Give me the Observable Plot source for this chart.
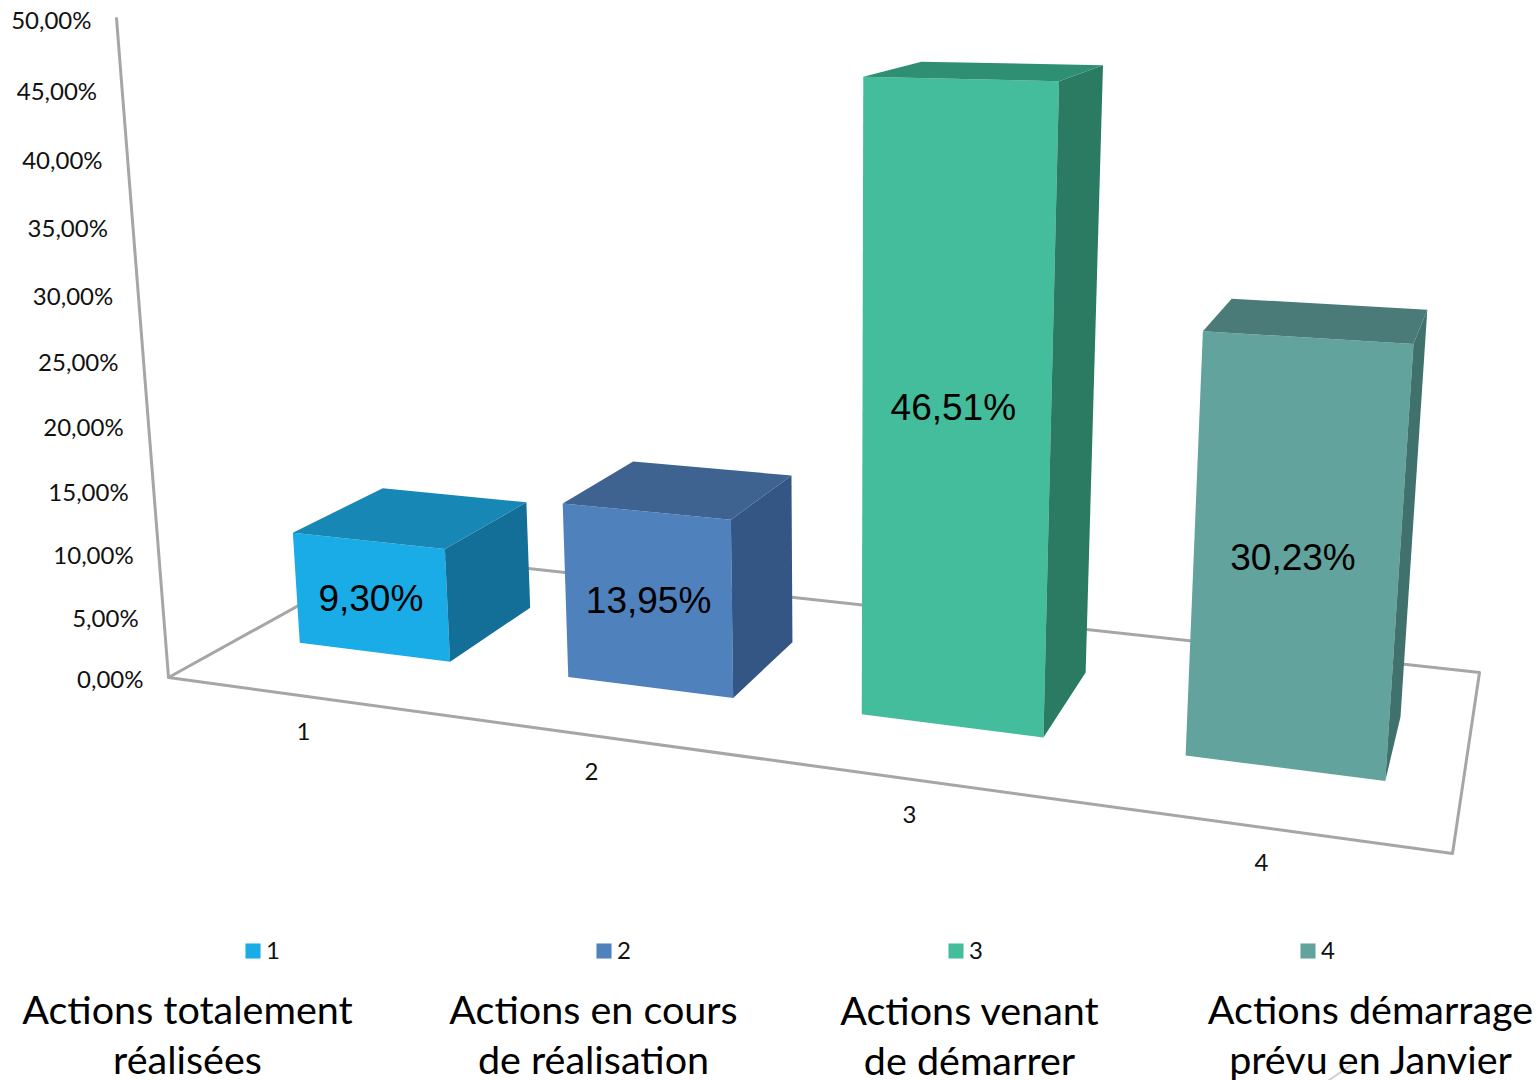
<!DOCTYPE html>
<html><head><meta charset="utf-8">
<script src="https://cdn.jsdelivr.net/npm/d3@7"></script>
<script src="https://cdn.jsdelivr.net/npm/@observablehq/plot@0.6"></script>
<style>html,body{margin:0;background:#fff}svg{display:block}</style></head>
<body><div id="chart"></div>
<script>
const categories=["1","2","3","4"];
const values=[9.30,13.95,46.51,30.23];
const valueLabels=["9,30%","13,95%","46,51%","30,23%"];
const axisTicks=[0,5,10,15,20,25,30,35,40,45,50];
const axisLabels=["0,00%","5,00%","10,00%","15,00%","20,00%","25,00%","30,00%","35,00%","40,00%","45,00%","50,00%"];
const frontColors=["#1AACE6","#4F81BD","#43BD9B","#62A39D"];
const topColors=["#1787B5","#3E6391","#2F8F73","#4B7B78"];
const sideColors=["#136F97","#345684","#2B7A62","#40716D"];
const captions=[["Actions totalement","réalisées"],["Actions en cours","de réalisation"],["Actions venant","de démarrer"],["Actions démarrage","prévu en Janvier"]];

// camera: floor plane homography plus vertical vanishing point
function sq2q(q){const [[x0,y0],[x1,y1],[x2,y2],[x3,y3]]=q;
 const dx1=x1-x2,dx2=x3-x2,dx3=x0-x1+x2-x3,dy1=y1-y2,dy2=y3-y2,dy3=y0-y1+y2-y3;
 const den=dx1*dy2-dx2*dy1,g=(dx3*dy2-dx2*dy3)/den,h=(dx1*dy3-dx3*dy1)/den;
 return [[x1-x0+g*x1,x3-x0+h*x3,x0],[y1-y0+g*y1,y3-y0+h*y3,y0],[g,h,1]];}
const H=sq2q([[168,677],[1452,853],[1479,672],[392,553]]);
const vp=[841,9210];
const s=-(677-18)/(vp[1]-18);
function project(X,Y,Z){const u=X/4,v=Y;
 const a=H[0][0]*u+H[0][1]*v+H[0][2]+s*Z*vp[0];
 const b=H[1][0]*u+H[1][1]*v+H[1][2]+s*Z*vp[1];
 const w=H[2][0]*u+H[2][1]*v+H[2][2]+s*Z;
 return [a/w,b/w];}

const barStart=[0.221,0.229,0.229,0.226], barEnd=[0.797,0.803,0.801,0.792];
const d0=0.301, d1=[0.712,0.685,0.710,0.665], heightScale=0.993;
const catX=[0.676,1.633,2.586,3.537], catDepth=[-0.186,-0.179,-0.168,-0.158];
const labelDx=[0,1,-2,-2], labelDy=[3,2,-4,1];
const faces=[];
values.forEach((val,i)=>{const x0=i+barStart[i],x1=i+barEnd[i],z=val/50*heightScale;
 const poly=(name,color,pts)=>pts.forEach(p=>{const [x,y]=project(...p);faces.push({x,y,key:i+name,color});});
 poly("f",frontColors[i],[[x0,d0,0],[x1,d0,0],[x1,d0,z],[x0,d0,z]]);
 poly("s",sideColors[i],[[x1,d0,0],[x1,d1[i],0],[x1,d1[i],z],[x1,d0,z]]);
 poly("t",topColors[i],[[x0,d0,z],[x1,d0,z],[x1,d1[i],z],[x0,d1[i],z]]);
});
const edge=[[0,0,1],[0,0,0],[4,0,0],[4,1,0],[0,1,0],[0,0,0]].map(p=>{const [x,y]=project(...p);return {x,y}});
const tickData=axisTicks.map((t,i)=>{const [x,y]=project(0,0,t/50);return {x:x-25,y:y+3,label:axisLabels[i]}});
const catData=categories.map((c,i)=>{const [x,y]=project(catX[i],catDepth[i],0);return {x,y,label:c}});
const valData=values.map((v,i)=>{const [x,y]=project(i+(barStart[i]+barEnd[i])/2,d0,v/100);return {x:x+labelDx[i],y:y+labelDy[i],label:valueLabels[i]}});
const legendX=[252.5,603.5,955.5,1307.5];
const legendData=categories.map((c,i)=>({x:legendX[i],y:950.5,c:frontColors[i],label:c}));
const capX=[187,593,969,1370];
const capY=[[1011,1061],[1011,1061],[1012,1062],[1011,1061]];
const capData=captions.flatMap((l,i)=>l.map((t,j)=>({x:capX[i],y:capY[i][j],label:t})));
const stray=[{x:1328,y:1080},{x:1350,y:1065}];

document.getElementById("chart").append(Plot.plot({
 width:1539,height:1080,margin:0,
 x:{domain:[0,1539],range:[0,1539],axis:null},
 y:{domain:[0,1080],range:[0,1080],axis:null},
 color:{type:"identity"},
 marks:[
  Plot.line(edge,{x:"x",y:"y",stroke:"#a6a6a6",strokeWidth:3}),
  Plot.line(stray,{x:"x",y:"y",stroke:"#cfcfcf",strokeWidth:2}),
  Plot.line(faces,{x:"x",y:"y",z:"key",fill:"color",stroke:"none"}),
  Plot.text(tickData,{x:"x",y:"y",text:"label",textAnchor:"end",fontSize:24,fontFamily:"Lato",fill:"#111"}),
  Plot.text(catData,{x:"x",y:"y",text:"label",fontSize:24,fontFamily:"Lato",fill:"#111"}),
  Plot.text(valData,{x:"x",y:"y",text:"label",fontSize:37,fontFamily:"Liberation Sans",fill:"#000"}),
  Plot.dot(legendData,{x:"x",y:"y",fill:"c",r:8.5,symbol:"square"}),
  Plot.text(legendData,{x:d=>d.x+20,y:"y",text:"label",fontSize:24,fontFamily:"Lato",fill:"#111"}),
  Plot.text(capData,{x:"x",y:"y",text:"label",fontSize:39.5,fontFamily:"Lato",fill:"#000"})
 ]}));
</script></body></html>
